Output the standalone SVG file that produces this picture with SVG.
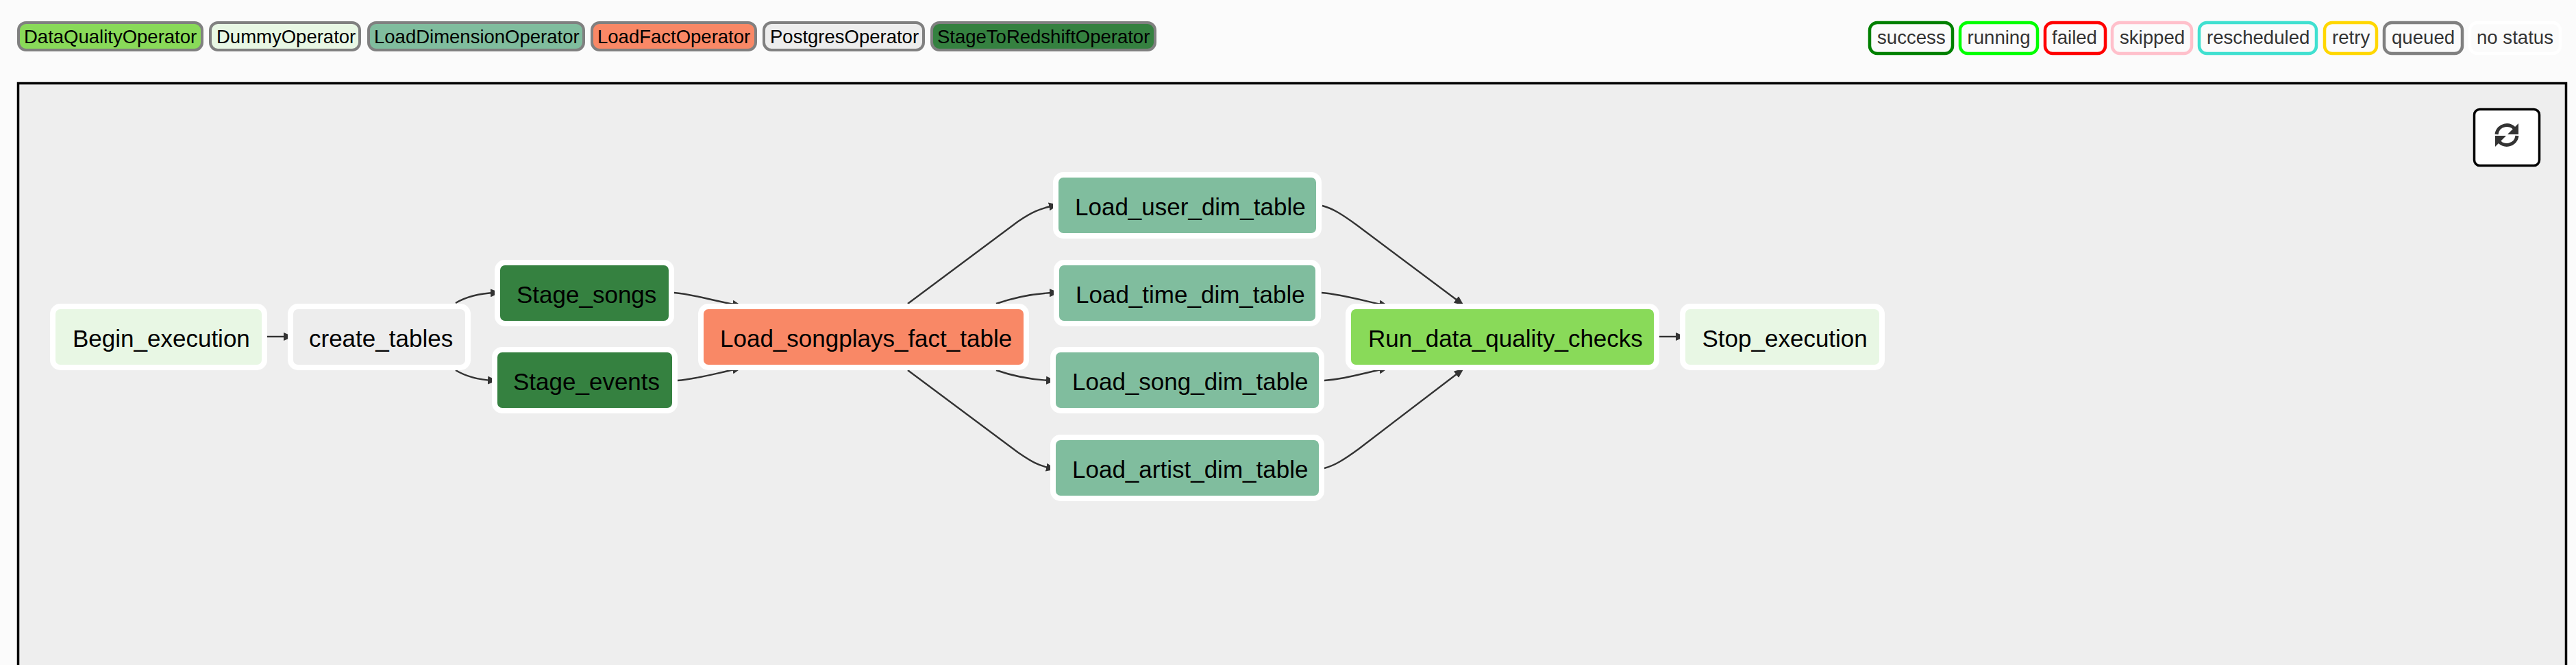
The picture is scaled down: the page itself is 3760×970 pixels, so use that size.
<svg xmlns="http://www.w3.org/2000/svg" width="3760" height="970" viewBox="0 0 3760 970">
<defs>
<marker id="head" markerUnits="userSpaceOnUse" viewBox="0 0 14 12" refX="7" refY="6" markerWidth="14" markerHeight="12" orient="auto"><path d="M0,0 L14,6 L0,12 z" fill="#333"/></marker>
</defs>
<style>
text{font-family:"Liberation Sans",Arial,sans-serif}
.lg rect{stroke:#808080;stroke-width:4}
.lg text{font-size:27.5px;fill:#000}
.st rect{fill:#fbfbfb;stroke-width:4.5}
.st text{font-size:27.6px;fill:#333}
.node rect{stroke:#fff;stroke-width:8}
.node text{font-size:35px;fill:#000}
.edge{fill:none;stroke:#333;stroke-width:2.4;marker-end:url(#head)}
</style>
<rect width="3760" height="970" fill="#fbfbfb"/>
<path d="M26.500 970V121.500H3745.500V970" fill="#eee" stroke="#000" stroke-width="3.500"/>
<g id="legend-operators" class="lg">
<g id="lg-dq"><rect x="27" y="33" width="268" height="40" rx="11" fill="#89DA59"/><text x="35" y="63">DataQualityOperator</text></g>
<g id="lg-dummy"><rect x="307" y="33" width="218" height="40" rx="11" fill="#e8f7e4"/><text x="316" y="63">DummyOperator</text></g>
<g id="lg-dim"><rect x="538" y="33" width="314" height="40" rx="11" fill="#80BD9E"/><text x="546" y="63">LoadDimensionOperator</text></g>
<g id="lg-fact"><rect x="864" y="33" width="239" height="40" rx="11" fill="#F98866"/><text x="872" y="63">LoadFactOperator</text></g>
<g id="lg-pg"><rect x="1115" y="33" width="233" height="40" rx="11" fill="#ededed"/><text x="1124" y="63">PostgresOperator</text></g>
<g id="lg-stage"><rect x="1360" y="33" width="326" height="40" rx="11" fill="#358140"/><text x="1368" y="63">StageToRedshiftOperator</text></g>
</g>
<g id="legend-status" class="st">
<g id="st-success"><rect x="2729" y="33" width="121" height="45" rx="11" stroke="#008000"/><text x="2740" y="64">success</text></g>
<g id="st-running"><rect x="2861" y="33" width="113" height="45" rx="11" stroke="#00ff00"/><text x="2871.500" y="64">running</text></g>
<g id="st-failed"><rect x="2985" y="33" width="88" height="45" rx="11" stroke="#ff0000"/><text x="2995" y="64">failed</text></g>
<g id="st-skipped"><rect x="3083" y="33" width="116" height="45" rx="11" stroke="#ffc0cb"/><text x="3094" y="64">skipped</text></g>
<g id="st-rescheduled"><rect x="3210" y="33" width="171" height="45" rx="11" stroke="#40e0d0"/><text x="3221" y="64">rescheduled</text></g>
<g id="st-retry"><rect x="3393" y="33" width="76" height="45" rx="11" stroke="#ffd700"/><text x="3404" y="64">retry</text></g>
<g id="st-queued"><rect x="3480" y="33" width="114" height="45" rx="11" stroke="#808080"/><text x="3491" y="64">queued</text></g>
<g id="st-nostatus"><rect x="3605" y="33" width="132" height="45" rx="11" stroke="#fff"/><text x="3615" y="64">no status</text></g>
</g>
<g id="refresh-button">
<rect x="3611.500" y="159.500" width="95" height="82" rx="8" fill="#fff" stroke="#000" stroke-width="3.500"/>
<path d="M3644 196C3646 181 3665 178 3672 190" fill="none" stroke="#333" stroke-width="5"/>
<path d="M3674 198C3672 213 3653 216 3646 204" fill="none" stroke="#333" stroke-width="5"/>
<path d="M3676 180V196H3660z" fill="#333"/>
<path d="M3642 214V198H3658z" fill="#333"/>
</g>
<g id="connectors">
<path class="edge" d="M390 491H421"/>
<path class="edge" d="M665 442C680 433 700 428 723 427"/>
<path class="edge" d="M665 540C680 549 700 554 719 555"/>
<path class="edge" d="M984 427C1010 429 1030 436 1076 445"/>
<path class="edge" d="M989 555C1015 553 1035 547 1076 538"/>
<path class="edge" d="M1325 443L1486 323C1505 310 1518 304 1538 300"/>
<path class="edge" d="M1454 443C1480 434 1505 428 1539 427"/>
<path class="edge" d="M1454 540C1480 549 1505 554 1534 555"/>
<path class="edge" d="M1325 540L1486 660C1505 673 1515 679 1534 683"/>
<path class="edge" d="M1930 300C1945 304 1958 312 1980 328L2131 441"/>
<path class="edge" d="M1929 427C1955 429 1980 436 2020 445"/>
<path class="edge" d="M1933 555C1960 553 1980 547 2020 538"/>
<path class="edge" d="M1933 683C1948 679 1961 671 1983 655L2131 542"/>
<path class="edge" d="M2422 491H2453"/>
</g>
<g id="nodes" class="node">
<g id="Begin_execution"><rect x="77" y="447" width="309" height="89" rx="11" fill="#e8f7e4"/><text x="106" y="506">Begin_execution</text></g>
<g id="create_tables"><rect x="424" y="447" width="259" height="89" rx="11" fill="#ededed"/><text x="451" y="506">create_tables</text></g>
<g id="Stage_songs"><rect x="726" y="383" width="254" height="89" rx="11" fill="#358140"/><text x="754" y="442">Stage_songs</text></g>
<g id="Stage_events"><rect x="722" y="510" width="263" height="89" rx="11" fill="#358140"/><text x="749" y="569">Stage_events</text></g>
<g id="Load_songplays_fact_table"><rect x="1023" y="447" width="475" height="89" rx="11" fill="#F98866"/><text x="1051" y="506">Load_songplays_fact_table</text></g>
<g id="Load_user_dim_table"><rect x="1541" y="255" width="384" height="89" rx="11" fill="#80BD9E"/><text x="1569" y="314">Load_user_dim_table</text></g>
<g id="Load_time_dim_table"><rect x="1542" y="383" width="382" height="89" rx="11" fill="#80BD9E"/><text x="1570" y="442">Load_time_dim_table</text></g>
<g id="Load_song_dim_table"><rect x="1537" y="510" width="392" height="89" rx="11" fill="#80BD9E"/><text x="1565" y="569">Load_song_dim_table</text></g>
<g id="Load_artist_dim_table"><rect x="1537" y="638" width="392" height="89" rx="11" fill="#80BD9E"/><text x="1565" y="697">Load_artist_dim_table</text></g>
<g id="Run_data_quality_checks"><rect x="1968" y="447" width="450" height="89" rx="11" fill="#89DA59"/><text x="1997" y="506">Run_data_quality_checks</text></g>
<g id="Stop_execution"><rect x="2456" y="447" width="291" height="89" rx="11" fill="#e8f7e4"/><text x="2484.500" y="506">Stop_execution</text></g>
</g>
</svg>
